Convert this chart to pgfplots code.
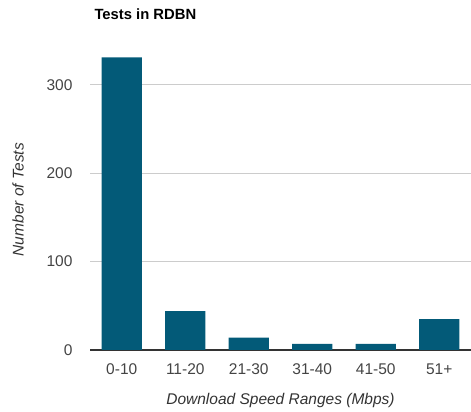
\documentclass[border=0pt]{standalone}
\usepackage{pgfplots}
\pgfplotsset{compat=1.18}
\usepackage{fontspec}
\setmainfont{Liberation Sans}
\definecolor{barc}{HTML}{035A78}
\definecolor{gridc}{HTML}{CCCCCC}
\definecolor{zeroc}{HTML}{333333}
\definecolor{tickc}{HTML}{444444}
\begin{document}
\begin{tikzpicture}[x=1pt,y=1pt]
\path[use as bounding box] (0,0) rectangle (471,412);
\begin{axis}[
  at={(90pt,62pt)}, anchor=south west,
  scale only axis, width=381pt, height=300.5pt,
  xmin=-0.5, xmax=5.5, ymin=0, ymax=340,
  xtick={0,1,2,3,4,5},
  xticklabels={0-10,11-20,21-30,31-40,41-50,51+},
  ytick={0,100,200,300},
  major tick length=0pt,
  axis x line*=bottom, axis y line*=left,
  x axis line style={draw=zeroc, line width=1.2pt, -},
  y axis line style={draw=none},
  ymajorgrids, grid style={draw=gridc, line width=0.9pt},
  ticklabel style={font=\fontsize{15.5}{18}\selectfont, text=tickc},
  yticklabel style={xshift=-14pt},
  xticklabel style={yshift=-10pt},
  /pgf/number format/assume math mode=true,
  xlabel={Download Speed Ranges (Mbps)},
  xlabel style={at={(axis description cs:0.5,0)}, anchor=center, yshift=-50pt, font=\fontsize{15.5}{18}\selectfont\itshape, text=zeroc},
  ylabel={Number of Tests},
  ylabel style={at={(axis description cs:0,0.5)}, anchor=center, yshift=72pt, font=\fontsize{15.5}{18}\selectfont\itshape, text=zeroc},
  title={Tests in RDBN},
  title style={at={(axis description cs:0,1)}, anchor=base west, yshift=23.5pt, xshift=1pt, font=\fontsize{14.8}{17}\selectfont\bfseries},
  clip=false,
]
\addplot[ybar, bar width=0.63, fill=barc, draw=none, bar shift=0pt] coordinates {
  (0,331) (1,44) (2,14) (3,7) (4,7) (5,35)
};
\end{axis}
\end{tikzpicture}
\end{document}
